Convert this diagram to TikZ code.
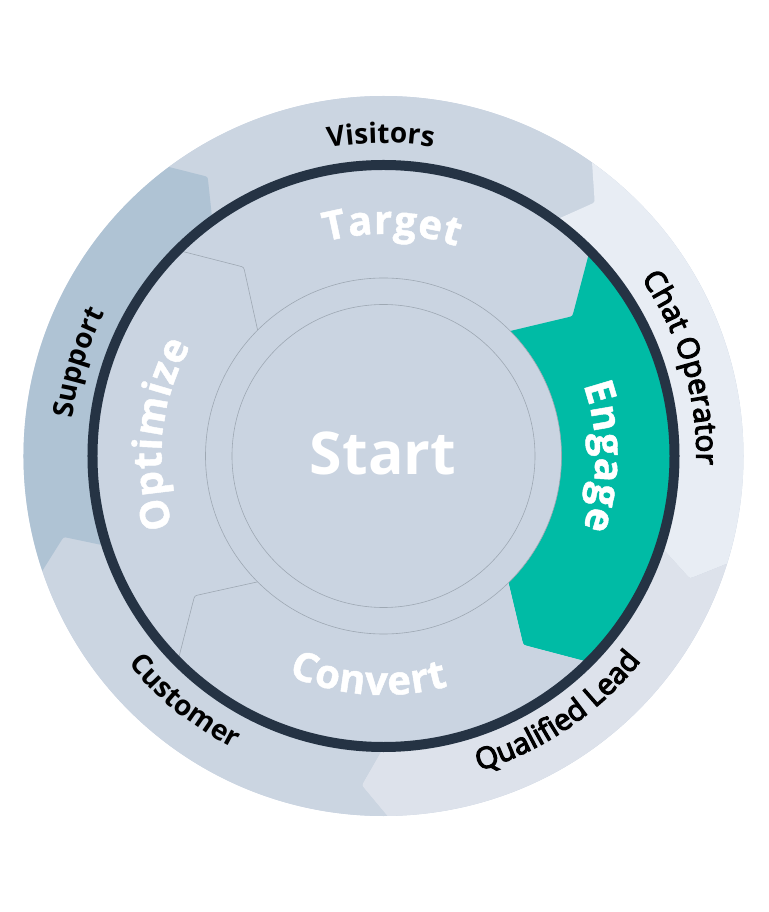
\documentclass[tikz,border=0pt]{standalone}
\usepackage{fontspec}
\setmainfont{Open Sans}
\newfontfamily\semifont[FakeBold=4]{Open Sans}
\newfontfamily\heavyfont[BoldFeatures={FakeBold=1.2}]{Open Sans}
\usetikzlibrary{decorations.text,calc}
\definecolor{visc}{HTML}{CBD5E1}
\definecolor{chatc}{HTML}{E8EDF4}
\definecolor{qlc}{HTML}{DDE2EB}
\definecolor{cusc}{HTML}{CBD5E1}
\definecolor{supc}{HTML}{AFC3D4}
\definecolor{gearc}{HTML}{CAD4E1}
\definecolor{tealc}{HTML}{00BBA5}
\definecolor{ringc}{HTML}{253344}
\definecolor{linec}{HTML}{9EA8B3}
\newcommand\outerlab{\fontsize{28}{30}\selectfont\bfseries}
\newcommand\semilab{\fontsize{29.5}{31}\selectfont\semifont}
\newcommand\innerlab{\fontsize{40}{42}\selectfont\heavyfont\bfseries\kern0.8pt}
% tail angle, head angle, r in, r out, r tip, delta, colour
\newcommand\arrowseg[7]{%
  \coordinate (hO) at (#2:#4); \coordinate (hI) at (#2:#3); \coordinate (hT) at ({#2-#6}:#5);
  \coordinate (tO) at (#1:#4); \coordinate (tI) at (#1:#3); \coordinate (tT) at ({#1-#6}:#5);
  \fill[#7] (tO) arc[start angle=#1, end angle=#2, radius=#4]
    -- ($(hT)!5pt!(hO)$) .. controls (hT) .. ($(hT)!5pt!(hI)$) -- (hI)
    arc[start angle=#2, end angle=#1, radius=#3]
    -- ($(tT)!5pt!(tI)$) .. controls (tT) .. ($(tT)!5pt!(tO)$) -- cycle;}
% angle, r in, r out, r tip, delta
\newcommand\gearline[5]{%
  \coordinate (lO) at (#1:#3); \coordinate (lI) at (#1:#2); \coordinate (lT) at ({#1-#5}:#4);
  \draw[linec, line width=0.6pt] (lO) -- ($(lT)!5pt!(lO)$) .. controls (lT) .. ($(lT)!5pt!(lI)$) -- (lI);}
\tikzset{
  arclabel/.style={decorate, decoration={text along path, text={#1}, text align=center}},
  whitelabel/.style={decorate, decoration={text along path, text={#1}, text align=center, text color=white}}
}
\begin{document}
\begin{tikzpicture}[x=1pt,y=1pt]
\useasboundingbox (-383.5,-456) rectangle (384.5,456);
\fill[gearc] (0,0) circle[radius=360pt];
% outer ring
\arrowseg{126.6}{54.6}{286pt}{360pt}{330pt}{4.4}{visc}
\arrowseg{54.6}{-17.4}{286pt}{360pt}{330pt}{4.4}{chatc}
\arrowseg{-17.4}{-89.4}{286pt}{360pt}{330pt}{4.4}{qlc}
\arrowseg{270.6}{198.6}{286pt}{360pt}{330pt}{4.4}{cusc}
\arrowseg{198.6}{126.6}{286pt}{360pt}{330pt}{4.4}{supc}
% inner gear
\arrowseg{135}{45}{176pt}{292pt}{235pt}{8.5}{gearc}
\arrowseg{45}{-45}{176pt}{292pt}{235pt}{8.5}{tealc}
\arrowseg{-45}{-135}{176pt}{292pt}{235pt}{8.5}{gearc}
\arrowseg{225}{135}{176pt}{292pt}{235pt}{8.5}{gearc}
\gearline{135}{178pt}{291pt}{235pt}{8.5}
\gearline{225}{178pt}{291pt}{235pt}{8.5}
% centre
\filldraw[fill=gearc, draw=linec, line width=0.6pt] (0,0) circle[radius=178pt];
\draw[linec, line width=0.6pt] (0,0) circle[radius=151.5pt];
\draw[ringc, line width=10pt] (0,0) circle[radius=291pt];
\node[font=\fontsize{59}{61}\selectfont\bfseries, text=white, anchor=base, inner sep=0pt] (start) at (-0.5,-19) {Start};
% outer labels
\path[arclabel={|\outerlab|Visitors}] (130.5:313pt) arc[start angle=130.5, end angle=50.5, radius=313pt];
\path[arclabel={|\semilab|Chat Operator}] (56.5:313pt) arc[start angle=56.5, end angle=-23.5, radius=313pt];
\path[arclabel={|\semilab|Qualified Lead}] (-100.8:329pt) arc[start angle=-100.8, end angle=-10.8, radius=329pt];
\path[arclabel={|\outerlab|Customer}] (186:329pt) arc[start angle=186, end angle=276, radius=329pt];
\path[arclabel={|\outerlab|Support}] (203:313pt) arc[start angle=203, end angle=123, radius=313pt];
% inner labels
\path[whitelabel={|\innerlab|Target}] (133:222pt) arc[start angle=133, end angle=43, radius=222pt];
\path[whitelabel={|\innerlab|Engage}] (45:212pt) arc[start angle=45, end angle=-45, radius=212pt];
\path[whitelabel={|\innerlab|Convert}] (-139:239pt) arc[start angle=-139, end angle=-49, radius=239pt];
\path[whitelabel={|\innerlab|Optimize}] (219.5:222pt) arc[start angle=219.5, end angle=129.5, radius=222pt];
\end{tikzpicture}
\end{document}
